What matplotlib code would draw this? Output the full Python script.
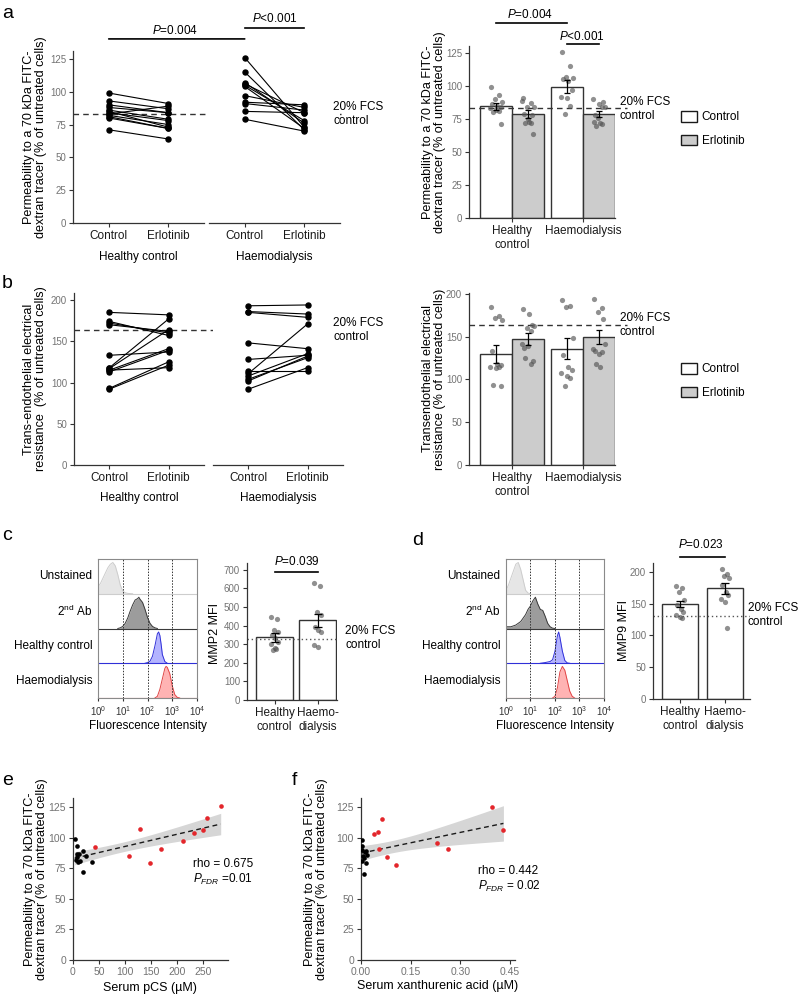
import numpy as np
import matplotlib.pyplot as plt
from matplotlib.patches import Patch, ConnectionPatch

plt.rcParams['font.family'] = ['Liberation Sans', 'DejaVu Sans']
plt.rcParams['mathtext.fontset'] = 'custom'
plt.rcParams['mathtext.rm'] = 'Liberation Sans'
plt.rcParams['mathtext.it'] = 'Liberation Sans:italic'
plt.rcParams['mathtext.sf'] = 'Liberation Sans'

groups = ['Healthy control', 'Haemodialysis']
treatments = ['Control', 'Erlotinib']

# a: permeability to 70 kDa dextran (% of untreated cells), paired donors
perm_hc_ctrl = [99, 93, 90, 88, 86, 85, 84, 83, 82, 81, 80, 71]
perm_hc_erl = [91, 87, 84, 84, 79, 73, 78, 89, 75, 72, 72, 64]
perm_hd_ctrl = [126, 115, 107, 106, 105, 104, 97, 92, 91, 85, 79]
perm_hd_erl = [73, 71, 76, 84, 78, 72, 88, 90, 86, 84, 70]
perm_mean = [[84.5, 78.5], [99.5, 78.5]]
perm_sem = [[2.5, 3.0], [5.0, 2.2]]
perm_fcs = 83

# b: trans-endothelial electrical resistance (% of untreated cells)
teer_hc_ctrl = [185, 174, 172, 170, 133, 118, 117, 115, 113, 115, 93, 92]
teer_hc_erl = [182, 157, 160, 162, 137, 177, 164, 141, 139, 118, 125, 121]
teer_hd_ctrl = [193, 186, 185, 148, 128, 114, 111, 108, 104, 102, 92]
teer_hd_erl = [194, 183, 179, 141, 133, 114, 171, 135, 130, 132, 118]
teer_mean = [[129.5, 147], [136, 149.5]]
teer_sem = [[10.5, 7], [12, 8.5]]
teer_fcs = 164

# c / d: MFI
mmp2_hc = [449, 434, 377, 368, 350, 332, 314, 300, 278, 272, 269]
mmp2_hd = [632, 614, 476, 458, 395, 377, 368, 296, 287]
mmp2_mean = [338, 428]
mmp2_sem = [25, 36]
mmp2_fcs = 330

mmp9_hc = [178, 174, 169, 156, 148, 142, 137, 132, 129, 127]
mmp9_hd = [204, 197, 193, 190, 179, 169, 163, 158, 153, 111]
mmp9_mean = [149, 174]
mmp9_sem = [5, 9]
mmp9_fcs = 130

# histogram traces: log10 fluorescence, relative count per row
hist_rows = ['Unstained', '2$^{\\mathrm{nd}}$ Ab', 'Healthy control', 'Haemodialysis']
hist_fill = ['#e6e6e6', '#9c9c9c', '#b3b3ff', '#ffb3b3']
hist_edge = ['#cdcdcd', '#3a3a3a', '#3030d8', '#e04545']

mmp2_logx = [
    [0, 0.1, 0.2, 0.3, 0.4, 0.5, 0.6, 0.7, 0.8, 0.9, 1.0, 1.1, 1.2, 1.4],
    [0.8, 0.9, 1.0, 1.1, 1.2, 1.3, 1.4, 1.5, 1.6, 1.65, 1.7, 1.8, 1.9, 2.0, 2.1, 2.2, 2.3, 2.4],
    [1.9, 2.0, 2.1, 2.2, 2.3, 2.4, 2.45, 2.5, 2.55, 2.6, 2.7, 2.8],
    [2.3, 2.4, 2.5, 2.6, 2.7, 2.75, 2.8, 2.9, 3.0, 3.1, 3.2, 3.3],
]
mmp2_h = [
    [0.2, 0.3, 0.45, 0.6, 0.75, 0.85, 0.9, 0.8, 0.55, 0.25, 0.08, 0.03, 0.01, 0],
    [0, 0.02, 0.06, 0.15, 0.3, 0.5, 0.68, 0.82, 0.86, 0.9, 0.84, 0.75, 0.55, 0.32, 0.15, 0.06, 0.02, 0],
    [0, 0.02, 0.06, 0.2, 0.5, 0.85, 0.9, 0.8, 0.55, 0.25, 0.05, 0],
    [0, 0.05, 0.25, 0.55, 0.85, 0.91, 0.88, 0.7, 0.35, 0.1, 0.02, 0],
]
mmp9_logx = [
    [0, 0.1, 0.2, 0.3, 0.4, 0.5, 0.6, 0.7, 0.8, 0.9, 1.0],
    [0, 0.02, 0.2, 0.4, 0.6, 0.8, 0.9, 1.0, 1.1, 1.2, 1.3, 1.4, 1.5, 1.6, 1.7, 1.8, 1.9, 2.0],
    [1.4, 1.6, 1.8, 1.9, 2.0, 2.1, 2.15, 2.2, 2.3, 2.4, 2.5, 2.6],
    [1.9, 2.0, 2.1, 2.2, 2.3, 2.4, 2.5, 2.6, 2.7, 2.8],
]
mmp9_h = [
    [0.1, 0.25, 0.45, 0.65, 0.85, 0.9, 0.7, 0.4, 0.1, 0.02, 0],
    [0.5, 0.05, 0.05, 0.1, 0.2, 0.4, 0.55, 0.65, 0.8, 0.9, 0.7, 0.55, 0.52, 0.35, 0.15, 0.05, 0.01, 0],
    [0, 0.02, 0.05, 0.1, 0.35, 0.8, 0.9, 0.75, 0.35, 0.08, 0.01, 0],
    [0, 0.05, 0.3, 0.75, 0.91, 0.8, 0.5, 0.2, 0.05, 0],
]

# e / f: correlation with uraemic toxins
pcs_hc = [3, 8, 19, 7, 12, 8, 6, 14, 10, 36, 19, 25]
perm_hc_e = [99, 93, 89, 87, 87, 84, 82, 81, 80, 80, 72, 85]
pcs_hd = [284, 257, 249, 233, 212, 170, 129, 108, 148, 43]
perm_hd_e = [126, 116, 106, 104, 97, 91, 107, 85, 79, 92]

xa_hc = [0.002, 0.003, 0.01, 0.016, 0.004, 0.007, 0.012, 0.015, 0.01, 0.004, 0.019]
perm_hc_f = [98, 93, 70, 79, 81, 85, 88, 89, 83, 90, 86]
xa_hd = [0.397, 0.43, 0.04, 0.052, 0.064, 0.054, 0.078, 0.105, 0.229, 0.262]
perm_hd_f = [125, 106, 103, 105, 115, 91, 84, 78, 96, 91]

jit = np.array([-0.08, 0.05, -0.02, 0.09, -0.06, 0.02, 0.07, -0.09, 0.0, 0.04, -0.04, 0.08])

W, H = 800, 997
fig = plt.figure(figsize=(8, 9.97), dpi=100)


def px_axes(l, t, r, b):
    return fig.add_axes([l / W, 1 - b / H, (r - l) / W, (b - t) / H])


def ftext(x, y, s, **kw):
    kw.setdefault('fontsize', 8.5)
    kw.setdefault('va', 'center')
    return fig.text(x / W, 1 - y / H, s, **kw)


def style(ax, xcolor='#1a1a1a', xsize=8.5, ysize=7):
    for s in ['top', 'right']:
        ax.spines[s].set_visible(False)
    for s in ['left', 'bottom']:
        ax.spines[s].set_color('#333333')
        ax.spines[s].set_linewidth(0.9)
    ax.tick_params(axis='both', colors='#333333', length=3, width=0.8, pad=2)
    ax.tick_params(axis='y', labelsize=ysize, labelcolor='#737373')
    ax.tick_params(axis='x', labelsize=xsize, labelcolor=xcolor)


def fcs_label(x, y):
    ftext(x, y, '20% FCS\ncontrol', ha='left', linespacing=1.3)


def ylab(x, y, s, size=9.1):
    ftext(x, y, s, ha='center', rotation=90, fontsize=size, linespacing=1.1)


# ---------- paired facets (a, b left) ----------
def paired(boxes, ctrls, erls, ylim, yticks, fcs, line_end, label_y):
    axs = []
    for i, (box, cv, ev, grp) in enumerate(zip(boxes, ctrls, erls, groups)):
        ax = px_axes(*box)
        style(ax)
        for c, e in zip(cv, ev):
            ax.plot([1, 2], [c, e], color='black', lw=0.8, marker='o', ms=3.6, zorder=3)
        ax.set_xlim(0.4, 2.6)
        ax.set_ylim(*ylim)
        ax.set_xticks([1, 2], treatments)
        ax.set_yticks(yticks)
        if i > 0:
            ax.spines['left'].set_visible(False)
            ax.tick_params(axis='y', left=False, labelleft=False)
        ftext((box[0] + box[2]) / 2, label_y, grp, ha='center')
        axs.append(ax)
    l, r = boxes[0][0], boxes[0][2]
    axs[0].plot([0, (line_end - l) / (r - l)], [fcs, fcs], transform=axs[0].get_yaxis_transform(),
                color='#333333', lw=1, dashes=(4, 3), clip_on=False, zorder=2)
    return axs


axa = paired([(73, 51, 204, 223), (209, 51, 340, 223)], [perm_hc_ctrl, perm_hd_ctrl],
             [perm_hc_erl, perm_hd_erl], (0, 131), np.arange(0, 126, 25), perm_fcs, 342, 257)
fcs_label(333, 114)
con = ConnectionPatch(xyA=(1, 140.2), coordsA=axa[0].transData, xyB=(1, 140.2),
                      coordsB=axa[1].transData, color='black', lw=1.2)
fig.add_artist(con)
ftext(175, 31, '$P$=0.004', ha='center')
axa[1].plot([1, 2], [148.6, 148.6], color='black', lw=1.2, clip_on=False)
ftext(275, 18, '$P$<0.001', ha='center')
ylab(35, 137, 'Permeability to a 70 kDa FITC-\ndextran tracer (% of untreated cells)')

axb = paired([(74, 293, 204, 465), (213, 293, 343, 465)], [teer_hc_ctrl, teer_hd_ctrl],
             [teer_hc_erl, teer_hd_erl], (0, 208.5), np.arange(0, 201, 50), teer_fcs, 343, 498)
fcs_label(333, 330)
ylab(35, 379, 'Trans-endothelial electrical\nresistance  (% of untreated cells)')


# ---------- grouped bars (a, b right) ----------
def grouped(box, means, sems, dots, ylim, yticks, fcs, line_end):
    ax = px_axes(*box)
    style(ax)
    centers = np.arange(1, 3)
    for j, fill in enumerate(['white', '#cccccc']):
        xs = centers + (j - 0.5) * 0.45
        mv = [m[j] for m in means]
        ax.bar(xs, mv, width=0.45, color=fill, edgecolor='#333333', lw=1, zorder=1)
        ax.errorbar(xs, mv, yerr=[s[j] for s in sems], fmt='none', ecolor='black',
                    elinewidth=0.9, capsize=2.5, capthick=0.9, zorder=4)
        for g in range(2):
            vals = dots[g][j]
            ax.scatter(xs[g] + jit[:len(vals)] * 0.9, vals, s=14, color='#555555',
                       alpha=0.65, lw=0, zorder=3)
    ax.set_xlim(0.394, 2.45)
    ax.set_ylim(*ylim)
    ax.set_yticks(yticks)
    ax.set_xticks(centers, ['Healthy\ncontrol', 'Haemodialysis'])
    l, r = box[0], box[2]
    ax.plot([0, (line_end - l) / (r - l)], [fcs, fcs], transform=ax.get_yaxis_transform(),
            color='#333333', lw=1, dashes=(4, 3), clip_on=False, zorder=2)
    return ax


def legend_at(y):
    handles = [Patch(facecolor='white', edgecolor='#1a1a1a', lw=1),
               Patch(facecolor='#cccccc', edgecolor='#1a1a1a', lw=1)]
    fig.legend(handles, treatments, loc='center left', bbox_to_anchor=(681 / W, 1 - y / H),
               frameon=False, fontsize=8.5, handlelength=1.35, handleheight=1.0,
               labelspacing=0.95, handletextpad=0.4, borderpad=0, borderaxespad=0)


axa2 = grouped((469, 46, 615, 218), perm_mean, perm_sem,
               [[perm_hc_ctrl, perm_hc_erl], [perm_hd_ctrl, perm_hd_erl]],
               (0, 130.3), np.arange(0, 126, 25), perm_fcs, 627)
fcs_label(620, 109)
axa2.plot([0.775, 1.775], [147.7, 147.7], color='black', lw=1.2, clip_on=False)
ftext(530, 15, '$P$=0.004', ha='center')
axa2.plot([1.775, 2.225], [131.8, 131.8], color='black', lw=1.2, clip_on=False)
ftext(582, 37, '$P$<0.001', ha='center')
legend_at(129)
ylab(434, 132, 'Permeability to a 70 kDa FITC-\ndextran tracer (% of untreated cells)')

axb2 = grouped((469, 293, 615, 465), teer_mean, teer_sem,
               [[teer_hc_ctrl, teer_hc_erl], [teer_hd_ctrl, teer_hd_erl]],
               (0, 201), np.arange(0, 201, 50), teer_fcs, 627)
fcs_label(620, 325)
legend_at(381)
ylab(434, 379, 'Transendothelial electrical\nresistance (% of untreated cells)')


# ---------- flow histograms (c, d left) ----------
def histo(box, logx, heights):
    ax = px_axes(*box)
    for i, (lx, h) in enumerate(zip(logx, heights)):
        off = 3 - i
        x = np.power(10.0, lx)
        top = off + np.array(h)
        ax.fill_between(x, off, top, color=hist_fill[i], lw=0, zorder=1)
        ax.plot(x, top, color=hist_edge[i], lw=0.7, zorder=2)
        ax.axhline(off, color=hist_edge[i], lw=0.8, zorder=2)
        ax.text(-0.055, (off + 0.5) / 4, hist_rows[i], transform=ax.transAxes,
                ha='right', va='center', fontsize=8.5)
    for d in [10, 100, 1000]:
        ax.axvline(d, color='#333333', ls=(0, (1.5, 1.5)), lw=0.7, zorder=3)
    ax.set_xscale('log')
    ax.set_xlim(1, 1e4)
    ax.set_ylim(0, 4)
    ax.set_yticks([])
    ax.set_xticks([1, 10, 100, 1000, 10000],
                  ['$10^0$', '$10^1$', '$10^2$', '$10^3$', '$10^4$'])
    ax.xaxis.set_minor_locator(plt.NullLocator())
    for s in ax.spines.values():
        s.set_color('#8a8a8a')
        s.set_linewidth(0.8)
    ax.tick_params(axis='x', labelsize=7, colors='#333333', length=2.5, pad=2)
    ftext((box[0] + box[2]) / 2, 726, 'Fluorescence Intensity', ha='center')
    return ax


histo((98, 559, 197, 698), mmp2_logx, mmp2_h)
histo((506, 559, 604, 698), mmp9_logx, mmp9_h)


# ---------- MFI bars (c, d right) ----------
def mfi(box, means, sems, hc, hd, fcs, ylim, yticks, width, xlim, pline):
    ax = px_axes(*box)
    style(ax)
    ax.bar([1, 2], means, width=width, color='white', edgecolor='#333333', lw=1, zorder=1)
    for g, vals in enumerate([hc, hd]):
        ax.scatter(g + 1 + jit[:len(vals)], vals, s=14, color='#555555', alpha=0.65,
                   lw=0, zorder=3)
    ax.errorbar([1, 2], means, yerr=sems, fmt='none', ecolor='black', elinewidth=0.9,
                capsize=3, capthick=0.9, zorder=4)
    ax.axhline(fcs, color='#555555', ls=(0, (1, 2)), lw=1, zorder=2)
    ax.set_xlim(*xlim)
    ax.set_ylim(*ylim)
    ax.set_yticks(yticks)
    ax.set_xticks([1, 2], ['Healthy\ncontrol', 'Haemo-\ndialysis'])
    ax.plot([1, 2], [pline, pline], color='black', lw=1.2, clip_on=False)
    return ax


mfi((247, 563, 337, 700), mmp2_mean, mmp2_sem, mmp2_hc, mmp2_hd, mmp2_fcs,
    (0, 737), np.arange(0, 701, 100), 0.86, (0.36, 2.45), 689)
ftext(297, 561, '$P$=0.039', ha='center')
fcs_label(345, 638)
ftext(215, 633, 'MMP2 MFI', ha='center', rotation=90, fontsize=9)

mfi((653, 563, 750, 699), mmp9_mean, mmp9_sem, mmp9_hc, mmp9_hd, mmp9_fcs,
    (0, 214), np.arange(0, 201, 50), 0.8, (0.4, 2.55), 223.6)
ftext(701, 545, '$P$=0.023', ha='center')
fcs_label(748, 615)
ftext(624, 630, 'MMP9 MFI', ha='center', rotation=90, fontsize=9)


# ---------- correlations (e, f) ----------
def corr(box, xh, yh, xd, yd, xlim, xticks, xlabels):
    ax = px_axes(*box)
    style(ax, xcolor='#737373', xsize=7.5, ysize=7.5)
    x = np.r_[xh, xd]
    y = np.r_[yh, yd]
    slope, icpt = np.polyfit(x, y, 1)
    xs = np.linspace(x.min(), x.max(), 100)
    fit = icpt + slope * xs
    resid = y - (icpt + slope * x)
    s = np.sqrt(np.sum(resid ** 2) / (len(x) - 2))
    se = s * np.sqrt(1 / len(x) + (xs - x.mean()) ** 2 / np.sum((x - x.mean()) ** 2))
    ax.fill_between(xs, fit - 2.08 * se, fit + 2.08 * se, color='#d6d6d6', lw=0, zorder=1)
    ax.plot(xs, fit, color='#1a1a1a', lw=1, dashes=(3.5, 2.5), zorder=2)
    ax.scatter(xh, yh, s=11, color='black', lw=0, zorder=3)
    ax.scatter(xd, yd, s=11, color='#e3262b', lw=0, zorder=3)
    ax.set_xlim(*xlim)
    ax.set_ylim(0, 132.4)
    ax.set_yticks(np.arange(0, 126, 25))
    ax.set_xticks(xticks, xlabels)
    return ax


corr((73, 798, 228, 960), pcs_hc, perm_hc_e, pcs_hd, perm_hd_e, (0, 298),
     np.arange(0, 251, 50), [str(v) for v in range(0, 251, 50)])
ftext(193, 864, 'rho = 0.675', ha='left')
ftext(193, 879, '$P_{FDR}$ =0.01', ha='left')
ftext(150, 988, 'Serum pCS (µM)', ha='center', fontsize=9)
ylab(36, 879, 'Permeability to a 70 kDa FITC-\ndextran tracer (% of untreated cells)')

corr((361, 798, 515, 960), xa_hc, perm_hc_f, xa_hd, perm_hd_f, (0, 0.465),
     [0, 0.15, 0.30, 0.45], ['0.00', '0.15', '0.30', '0.45'])
ftext(478, 871, 'rho = 0.442', ha='left')
ftext(478, 886, '$P_{FDR}$ = 0.02', ha='left')
ftext(438, 986, 'Serum xanthurenic acid (µM)', ha='center', fontsize=9)
ylab(316, 879, 'Permeability to a 70 kDa FITC-\ndextran tracer (% of untreated cells)')

# panel letters
for letter, x, y in [('a', 2, 18), ('b', 2, 288), ('c', 2, 540), ('d', 412, 545),
                     ('e', 2, 785), ('f', 292, 785)]:
    ftext(x, y, letter, ha='left', va='baseline', fontsize=14)

fig.savefig('out.png', dpi=100)
